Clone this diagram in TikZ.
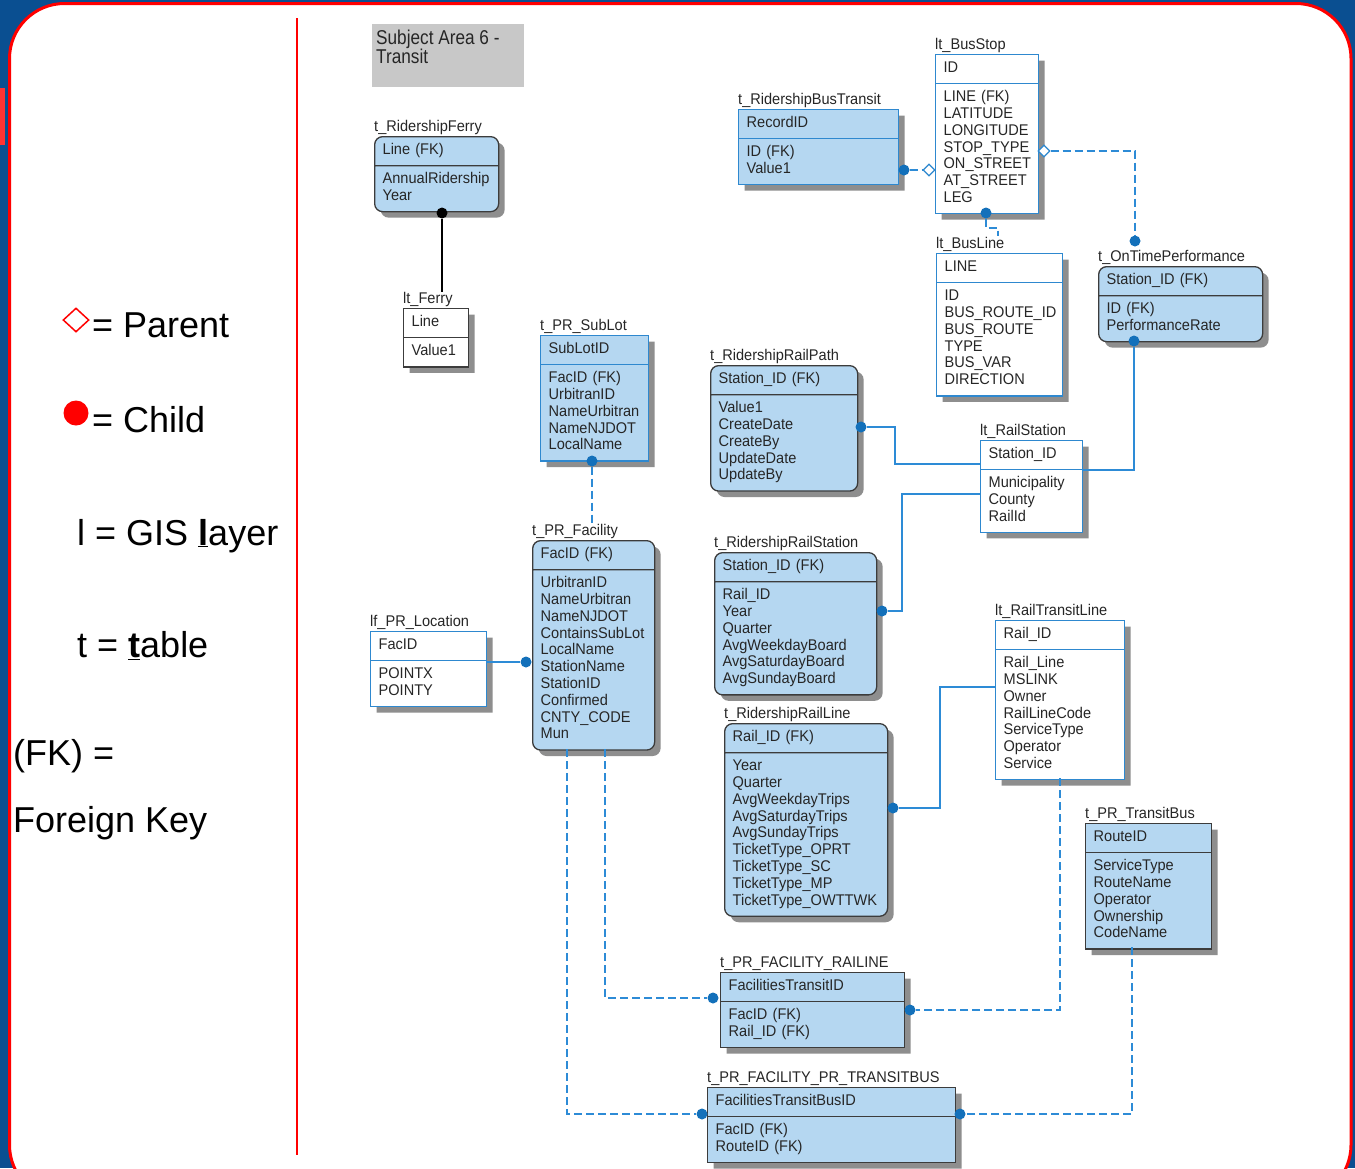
\documentclass[tikz,border=0pt]{standalone}
\usepackage{fontspec}
\setmainfont{Liberation Sans}
\newfontfamily\tblfont[FakeStretch=0.94]{Liberation Sans}
\newfontfamily\ttlfont[FakeStretch=0.86]{Liberation Sans}
\usetikzlibrary{shapes.multipart, shapes.geometric, shadows, positioning}

\definecolor{bgblue}{HTML}{0A4F91}
\definecolor{framered}{HTML}{FF0000}
\definecolor{erblue}{HTML}{B5D7F1}
\definecolor{erline}{HTML}{2E88CF}
\definecolor{erdark}{HTML}{3C3C3C}
\definecolor{shadowgray}{HTML}{8E8E8E}
\definecolor{relblue}{HTML}{2D8BD6}
\definecolor{dotblue}{HTML}{1370BA}
\definecolor{txtgray}{HTML}{262626}
\definecolor{titlegray}{HTML}{C8C8C8}

\begin{document}
\begin{tikzpicture}[x=1pt, y=1pt,
  tbl/.style={rectangle split, rectangle split parts=2, anchor=north west, line width=1.3pt,
    inner xsep=8pt, inner ysep=5.5pt, font={\tblfont\fontsize{15.5}{16.8}\selectfont}, text=txtgray,
    drop shadow={shadow xshift=6pt, shadow yshift=-6pt, fill=shadowgray, opacity=1}},
  deptable/.style={tbl, draw=erdark, fill=erblue, rounded corners=8pt},
  enttable/.style={tbl, draw=erline, fill=erblue},
  gislayer/.style={tbl, draw=erline, fill=white},
  tlabel/.style={anchor=base west, inner sep=0pt, font={\tblfont\fontsize{15.5}{17}\selectfont}, text=txtgray},
  fkdot/.style={circle, fill=dotblue, inner sep=0pt, minimum size=11pt},
  pdiamond/.style={diamond, draw=erline, fill=white, line width=1.2pt, inner sep=0pt, minimum size=12pt},
  idrel/.style={draw=relblue, line width=1.4pt},
  nonidrel/.style={idrel, dash pattern=on 8pt off 4pt},
  legend/.style={anchor=base west, inner sep=0pt, font=\fontsize{36}{40}\selectfont}]

  \useasboundingbox (0,0) rectangle (1355,-1168);
  % slide frame
  \fill[bgblue] (0,0) rectangle (1355,-1168);
  \draw[framered, line width=3pt, fill=white, rounded corners=55pt] (9.5,-3.5) rectangle (1351,-1200);
  \fill[framered!80] (0,-88) rectangle (5,-145);
  \draw[framered, line width=2pt] (297,-18) -- (297,-1155);

  % legend
  \node[diamond, draw=framered, fill=white, line width=1.5pt, inner sep=0pt, minimum width=26pt, minimum height=24pt] (pmark) at (76,-320) {};
  \node[legend] (parent) at (92,-337) {= Parent};
  \node[circle, fill=framered, inner sep=0pt, minimum size=25pt] (cmark) at (76,-413) {};
  \node[legend] (child) at (92,-432) {= Child};
  \node[legend] (layer) at (77,-545) {l = GIS \underline{\textbf{l}}ayer};
  \node[legend] (table) at (77,-657) {t = \underline{\textbf{t}}able};
  \node[legend] (fk) at (13,-765) {(FK) =};
  \node[legend] (fkey) at (13,-832) {Foreign Key};

  % subject area
  \node[fill=titlegray, anchor=north west, inner sep=0pt, minimum width=152pt, minimum height=63pt] (titlebox) at (372,-24) {};
  \node[anchor=north west, inner sep=0pt, align=left, text=txtgray, font={\ttlfont\fontsize{20}{19}\selectfont}] (titletext) at (376,-29.5) {Subject Area 6 -\\Transit};

  % tables and layers
  \node[deptable, text width=108pt] (ferry) at (374,-136)
    {\strut Line (FK)\strut \nodepart{two}\strut AnnualRidership\\Year\strut};
  \node[tlabel] (ferry-l) at ([yshift=5pt]ferry.north west) {t\_RidershipFerry};

  \node[gislayer, draw=erdark, text width=49pt] (lferry) at (403,-308)
    {\strut Line\strut \nodepart{two}\strut Value1\strut};
  \node[tlabel] (lferry-l) at ([yshift=5pt]lferry.north west) {lt\_Ferry};

  \node[enttable, text width=144pt] (busride) at (738,-109)
    {\strut RecordID\strut \nodepart{two}\strut ID (FK)\\Value1\strut};
  \node[tlabel] (busride-l) at ([yshift=5pt]busride.north west) {t\_RidershipBusTransit};

  \node[gislayer, text width=87pt] (busstop) at (935,-54)
    {\strut ID\strut \nodepart{two}\strut LINE (FK)\\LATITUDE\\LONGITUDE\\STOP\_TYPE\\ON\_STREET\\AT\_STREET\\LEG\strut};
  \node[tlabel] (busstop-l) at ([yshift=5pt]busstop.north west) {lt\_BusStop};

  \node[gislayer, text width=110pt] (busline) at (936,-253)
    {\strut LINE\strut \nodepart{two}\strut ID\\BUS\_ROUTE\_ID\\BUS\_ROUTE\\TYPE\\BUS\_VAR\\DIRECTION\strut};
  \node[tlabel] (busline-l) at ([yshift=5pt]busline.north west) {lt\_BusLine};

  \node[deptable, text width=148pt] (ontime) at (1098,-266)
    {\strut Station\_ID (FK)\strut \nodepart{two}\strut ID (FK)\\PerformanceRate\strut};
  \node[tlabel] (ontime-l) at ([yshift=5pt]ontime.north west) {t\_OnTimePerformance};

  \node[enttable, text width=92pt] (sublot) at (540,-335)
    {\strut SubLotID\strut \nodepart{two}\strut FacID (FK)\\UrbitranID\\NameUrbitran\\NameNJDOT\\LocalName\strut};
  \node[tlabel] (sublot-l) at ([yshift=5pt]sublot.north west) {t\_PR\_SubLot};

  \node[deptable, text width=106pt] (facility) at (532,-540)
    {\strut FacID (FK)\strut \nodepart{two}\strut UrbitranID\\NameUrbitran\\NameNJDOT\\ContainsSubLot\\LocalName\\StationName\\StationID\\Confirmed\\CNTY\_CODE\\Mun\strut};
  \node[tlabel] (facility-l) at ([yshift=5pt]facility.north west) {t\_PR\_Facility};

  \node[gislayer, text width=100pt] (location) at (370,-631)
    {\strut FacID\strut \nodepart{two}\strut POINTX\\POINTY\strut};
  \node[tlabel] (location-l) at ([yshift=5pt]location.north west) {lf\_PR\_Location};

  \node[deptable, text width=131pt] (railpath) at (710,-365)
    {\strut Station\_ID (FK)\strut \nodepart{two}\strut Value1\\CreateDate\\CreateBy\\UpdateDate\\UpdateBy\strut};
  \node[tlabel] (railpath-l) at ([yshift=5pt]railpath.north west) {t\_RidershipRailPath};

  \node[gislayer, text width=86pt] (railstation) at (980,-440)
    {\strut Station\_ID\strut \nodepart{two}\strut Municipality\\County\\RailId\strut};
  \node[tlabel] (railstation-l) at ([yshift=5pt]railstation.north west) {lt\_RailStation};

  \node[deptable, text width=146pt] (ridestation) at (714,-552)
    {\strut Station\_ID (FK)\strut \nodepart{two}\strut Rail\_ID\\Year\\Quarter\\AvgWeekdayBoard\\AvgSaturdayBoard\\AvgSundayBoard\strut};
  \node[tlabel] (ridestation-l) at ([yshift=5pt]ridestation.north west) {t\_RidershipRailStation};

  \node[deptable, text width=147pt] (rideline) at (724,-723)
    {\strut Rail\_ID (FK)\strut \nodepart{two}\strut Year\\Quarter\\AvgWeekdayTrips\\AvgSaturdayTrips\\AvgSundayTrips\\TicketType\_OPRT\\TicketType\_SC\\TicketType\_MP\\TicketType\_OWTTWK\strut};
  \node[tlabel] (rideline-l) at ([yshift=5pt]rideline.north west) {t\_RidershipRailLine};

  \node[gislayer, text width=113pt] (transitline) at (995,-620)
    {\strut Rail\_ID\strut \nodepart{two}\strut Rail\_Line\\MSLINK\\Owner\\RailLineCode\\ServiceType\\Operator\\Service\strut};
  \node[tlabel] (transitline-l) at ([yshift=5pt]transitline.north west) {lt\_RailTransitLine};

  \node[enttable, draw=erdark, text width=110pt] (transitbus) at (1085,-823)
    {\strut RouteID\strut \nodepart{two}\strut ServiceType\\RouteName\\Operator\\Ownership\\CodeName\strut};
  \node[tlabel] (transitbus-l) at ([yshift=5pt]transitbus.north west) {t\_PR\_TransitBus};

  \node[enttable, draw=erdark, text width=168pt] (facrail) at (720,-972)
    {\strut FacilitiesTransitID\strut \nodepart{two}\strut FacID (FK)\\Rail\_ID (FK)\strut};
  \node[tlabel] (facrail-l) at ([yshift=5pt]facrail.north west) {t\_PR\_FACILITY\_RAILINE};

  \node[enttable, draw=erdark, text width=232pt] (facbus) at (707,-1087)
    {\strut FacilitiesTransitBusID\strut \nodepart{two}\strut FacID (FK)\\RouteID (FK)\strut};
  \node[tlabel] (facbus-l) at ([yshift=5pt]facbus.north west) {t\_PR\_FACILITY\_PR\_TRANSITBUS};

  % relationship ends
  \node[fkdot, fill=black] (ferrydot) at (442,-213) {};
  \node[fkdot] (busridedot) at (904,-170) {};
  \node[pdiamond] (bsdiaL) at (929,-170) {};
  \node[pdiamond] (bsdiaR) at (1044,-151) {};
  \node[fkdot] (ontimedotT) at (1135,-241) {};
  \node[fkdot] (busstopdot) at (986,-213) {};
  \node[fkdot] (ontimedotB) at (1134,-341) {};
  \node[fkdot] (railpathdot) at (861,-427) {};
  \node[fkdot] (ridestationdot) at (882,-611) {};
  \node[fkdot] (raillinedot) at (893,-808) {};
  \node[fkdot] (sublotdot) at (592,-461) {};
  \node[fkdot] (facdot) at (526,-662) {};
  \node[fkdot] (facraildotL) at (713,-998) {};
  \node[fkdot] (facraildotR) at (910,-1010) {};
  \node[fkdot] (facbusdotL) at (702,-1114) {};
  \node[fkdot] (facbusdotR) at (960,-1114) {};
  \coordinate (rs-east) at (1082,-470);
  \coordinate (rs-west) at (980,-464);
  \coordinate (rs-west2) at (980,-494);
  \coordinate (tl-west) at (995,-687);
  \coordinate (tl-south) at (1060,-778);
  \coordinate (tb-south) at (1132,-947);
  \coordinate (loc-east) at (486,-662);
  \coordinate (fac-s1) at (605,-749);
  \coordinate (fac-s2) at (567,-749);
  \coordinate (bl-in) at (998,-236);

  % relationships
  \draw[black, line width=1.3pt] (ferrydot) -- (ferrydot |- lferry-l.north);
  \draw[nonidrel] (busridedot) -- (bsdiaL);
  \draw[nonidrel] (bsdiaR) -| (ontimedotT);
  \draw[nonidrel] (busstopdot) |- (998,-228) -- (bl-in);
  \draw[idrel] (ontimedotB) |- (rs-east);
  \draw[idrel] (railpathdot) -| (895,-445) |- (rs-west);
  \draw[idrel] (rs-west2) -| (902,-550) |- (ridestationdot);
  \draw[idrel] (raillinedot) -| (940,-750) |- (tl-west);
  \draw[nonidrel] (tl-south) |- (facraildotR);
  \draw[nonidrel] (tb-south) |- (facbusdotR);
  \draw[nonidrel] (sublotdot) -- (sublotdot |- facility-l.north);
  \draw[idrel] (facdot) -- (loc-east);
  \draw[nonidrel] (fac-s1) |- (facraildotL);
  \draw[nonidrel] (fac-s2) |- (facbusdotL);
\end{tikzpicture}
\end{document}
